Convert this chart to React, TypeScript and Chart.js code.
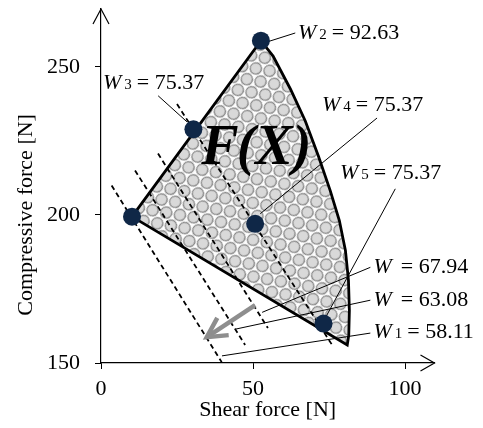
import { useEffect, useRef } from 'react';
import { Chart, registerables } from 'chart.js';

Chart.register(...registerables);

const FONT = '"Liberation Serif", "Times New Roman", Times, serif';

// axes
const xTicks = [0, 50, 100];
const yTicks = [150, 200, 250];
const X_MIN = 0;
const X_MAX = 109.7;
const Y_MIN = 150;
const Y_MAX = 269.5;
const xTitle = 'Shear force [N]';
const yTitle = 'Compressive force [N]';

// feasible region F(X) boundary (closed)
const regionX = [10.2, 52.6, 56.6, 62.3, 67.2, 71.5, 75.4, 78.4, 80.4, 81.4, 81.7, 81.5, 81.0, 10.2];
const regionY = [199.4, 258.8, 253.6, 242.5, 231.7, 219.9, 208.2, 198.1, 188.0, 177.9, 167.8, 159.4, 156.1, 199.4];
const regionLabelMain = 'F';
const regionLabelRest = '(X)';
const regionLabelX = 33.0;
const regionLabelY = 217.3;

// solution points
const pointX = [10.2, 30.4, 52.6, 50.7, 73.2];
const pointY = [199.4, 228.9, 258.8, 197.0, 163.3];

// iso-W dashed lines: start / end
const isoX1 = [3.5, 11.2, 18.75, 25.0];
const isoY1 = [209.9, 215.0, 220.7, 237.4];
const isoX2 = [39.7, 47.4, 54.9, 76.4];
const isoY2 = [150.3, 156.1, 161.8, 155.5];

// annotations
const labelMain = ['W', 'W', 'W', 'W', 'W', 'W', 'W'];
const labelSub = ['2', '3', '4', '5', '', '', '1'];
const labelValue = ['92.63', '75.37', '75.37', '75.37', '67.94', '63.08', '58.11'];
const labelX = [64.8, 0.66, 72.7, 78.6, 89.6, 89.6, 89.6];
const labelY = [259.3, 242.5, 235.1, 212.2, 180.3, 169.2, 158.4];
const leaderX1 = [55.0, 18.8, 90.8, 96.8, 88.6, 88.6, 88.6];
const leaderY1 = [258.5, 240.2, 232.7, 208.8, 182.3, 171.2, 160.1];
const leaderX2 = [63.9, 28.3, 52.4, 74.1, 53.0, 44.1, 39.8];
const leaderY2 = [261.4, 231.4, 200.4, 165.8, 167.1, 161.4, 152.4];

// descent direction arrow
const arrowX = [50.7, 34.8];
const arrowY = [169.5, 158.7];

function makePattern(): CanvasPattern | string {
  const w = 14;
  const h = 24;
  const c = document.createElement('canvas');
  c.width = w;
  c.height = h;
  const g = c.getContext('2d');
  if (!g) return '#d9d9d9';
  g.fillStyle = '#ffffff';
  g.fillRect(0, 0, w, h);
  const dot = (cx: number, cy: number) => {
    g.beginPath();
    g.arc(cx, cy, 5.7, 0, Math.PI * 2);
    g.fillStyle = '#d9d9d9';
    g.fill();
    g.lineWidth = 1.3;
    g.strokeStyle = '#8a8a8a';
    g.stroke();
  };
  dot(0, 0);
  dot(w, 0);
  dot(0, h);
  dot(w, h);
  dot(w / 2, h / 2);
  const p = g.createPattern(c, 'repeat');
  if (!p) return '#d9d9d9';
  try {
    p.setTransform(new DOMMatrix().rotateSelf(-50));
  } catch (e) {
    /* ignore */
  }
  return p;
}

const annotPlugin = {
  id: 'annot',
  afterDatasetsDraw(chart: any) {
    const { ctx, chartArea } = chart;
    const xs = chart.scales.x;
    const ys = chart.scales.y;
    ctx.save();
    // axis arrowheads
    ctx.strokeStyle = '#000';
    ctx.lineWidth = 1.2;
    const l = chartArea.left;
    const t = chartArea.top;
    ctx.beginPath();
    ctx.moveTo(l - 8, t + 15);
    ctx.lineTo(l, t);
    ctx.lineTo(l + 8, t + 15);
    ctx.stroke();
    const r = chartArea.right;
    const b = chartArea.bottom;
    ctx.beginPath();
    ctx.moveTo(r - 14, b - 8);
    ctx.lineTo(r, b);
    ctx.lineTo(r - 14, b + 8);
    ctx.stroke();

    // gray arrow head
    const ax0 = xs.getPixelForValue(arrowX[0]);
    const ay0 = ys.getPixelForValue(arrowY[0]);
    const ax1 = xs.getPixelForValue(arrowX[1]);
    const ay1 = ys.getPixelForValue(arrowY[1]);
    const ang = Math.atan2(ay0 - ay1, ax0 - ax1);
    const hl = 22;
    const ha = (28 * Math.PI) / 180;
    ctx.strokeStyle = '#8e8e8e';
    ctx.lineWidth = 4.5;
    ctx.lineJoin = 'miter';
    ctx.beginPath();
    ctx.moveTo(ax1 + hl * Math.cos(ang + ha), ay1 + hl * Math.sin(ang + ha));
    ctx.lineTo(ax1, ay1);
    ctx.lineTo(ax1 + hl * Math.cos(ang - ha), ay1 + hl * Math.sin(ang - ha));
    ctx.stroke();

    // labels
    ctx.fillStyle = '#000';
    ctx.textAlign = 'left';
    ctx.textBaseline = 'alphabetic';
    for (let i = 0; i < labelMain.length; i++) {
      let cx = xs.getPixelForValue(labelX[i]);
      const cy = ys.getPixelForValue(labelY[i]);
      ctx.font = `italic 22px ${FONT}`;
      ctx.fillText(labelMain[i], cx, cy);
      cx += ctx.measureText(labelMain[i]).width + 3;
      ctx.font = `15px ${FONT}`;
      if (labelSub[i]) {
        ctx.fillText(labelSub[i], cx, cy);
        cx += ctx.measureText(labelSub[i]).width + 5;
      } else {
        cx += 6;
      }
      ctx.font = `22px ${FONT}`;
      ctx.fillText('= ' + labelValue[i], cx, cy);
    }

    // region label F(X)
    let fx = xs.getPixelForValue(regionLabelX);
    const fy = ys.getPixelForValue(regionLabelY);
    ctx.font = `italic bold 56px ${FONT}`;
    ctx.fillText(regionLabelMain, fx, fy);
    fx += ctx.measureText(regionLabelMain).width - 2;
    ctx.fillText(regionLabelRest, fx, fy);

    // y title
    const yc = (ys.getPixelForValue(yTicks[0]) + ys.getPixelForValue(yTicks[yTicks.length - 1])) / 2;
    ctx.translate(26, yc);
    ctx.rotate(-Math.PI / 2);
    ctx.font = `22px ${FONT}`;
    ctx.textAlign = 'center';
    ctx.textBaseline = 'middle';
    ctx.fillText(yTitle, 0, 0);
    ctx.restore();
  },
};

export default function App() {
  const ref = useRef<HTMLCanvasElement>(null);
  useEffect(() => {
    document.body.style.margin = '0';
    document.body.style.overflow = 'hidden';
    const canvas = ref.current;
    if (!canvas) return;
    const pattern = makePattern();

    const pts = (xa: number[], ya: number[]) => xa.map((x, i) => ({ x, y: ya[i] }));
    const datasets: any[] = [];
    datasets.push({
      label: 'points',
      data: pts(pointX, pointY),
      showLine: false,
      pointRadius: 9,
      pointBackgroundColor: '#0f2747',
      pointBorderWidth: 0,
      clip: false,
    });
    datasets.push({
      label: 'arrow',
      data: pts(arrowX, arrowY),
      showLine: true,
      borderColor: '#8e8e8e',
      borderWidth: 4.5,
      pointRadius: 0,
      fill: false,
    });
    for (let i = 0; i < leaderX1.length; i++) {
      datasets.push({
        label: 'leader' + i,
        data: [
          { x: leaderX1[i], y: leaderY1[i] },
          { x: leaderX2[i], y: leaderY2[i] },
        ],
        showLine: true,
        borderColor: '#000',
        borderWidth: 1,
        pointRadius: 0,
        fill: false,
        clip: false,
      });
    }
    for (let i = 0; i < isoX1.length; i++) {
      datasets.push({
        label: 'iso' + i,
        data: [
          { x: isoX1[i], y: isoY1[i] },
          { x: isoX2[i], y: isoY2[i] },
        ],
        showLine: true,
        borderColor: '#000',
        borderWidth: 1.8,
        borderDash: [5, 3.5],
        pointRadius: 0,
        fill: false,
      });
    }
    datasets.push({
      label: 'region',
      data: pts(regionX, regionY),
      showLine: true,
      fill: 'shape',
      backgroundColor: pattern,
      borderColor: '#000',
      borderWidth: 2.8,
      pointRadius: 0,
      tension: 0,
    });

    const chart = new Chart(canvas, {
      type: 'scatter',
      data: { datasets },
      options: {
        animation: false,
        responsive: false,
        devicePixelRatio: 1,
        events: [],
        layout: { padding: { top: 8, right: 48.5, left: 0, bottom: 0 } },
        plugins: { legend: { display: false }, tooltip: { enabled: false } },
        scales: {
          x: {
            type: 'linear',
            min: X_MIN,
            max: X_MAX,
            afterBuildTicks: (s: any) => {
              s.ticks = xTicks.map((v) => ({ value: v }));
            },
            afterFit: (s: any) => {
              s.height = 65;
              s.paddingLeft = 0;
              s.paddingRight = 0;
              s.paddingTop = 0;
              s.paddingBottom = 0;
            },
            grid: { drawOnChartArea: false, drawTicks: true, tickLength: 6, color: '#000', lineWidth: 1 },
            border: { display: true, color: '#000', width: 1.2 },
            ticks: { color: '#000', padding: 7, maxRotation: 0, font: { family: FONT, size: 22 } },
            title: {
              display: true,
              text: xTitle,
              color: '#000',
              font: { family: FONT, size: 22 },
              padding: { top: 0, bottom: 5 },
            },
          },
          y: {
            type: 'linear',
            min: Y_MIN,
            max: Y_MAX,
            afterBuildTicks: (s: any) => {
              s.ticks = yTicks.map((v) => ({ value: v }));
            },
            afterFit: (s: any) => {
              s.width = 101;
              s.paddingLeft = 0;
              s.paddingRight = 0;
              s.paddingTop = 0;
              s.paddingBottom = 0;
            },
            grid: { drawOnChartArea: false, drawTicks: true, tickLength: 6, color: '#000', lineWidth: 1 },
            border: { display: true, color: '#000', width: 1.2 },
            ticks: { color: '#000', padding: 15, font: { family: FONT, size: 22 } },
          },
        },
      },
      plugins: [annotPlugin],
    } as any);
    return () => chart.destroy();
  }, []);
  return <canvas ref={ref} width={483} height={428} style={{ display: 'block', width: 483, height: 428 }} />;
}
